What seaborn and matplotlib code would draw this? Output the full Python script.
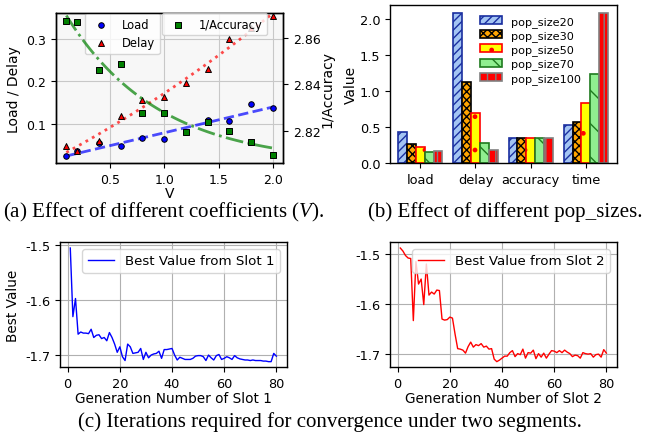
import numpy as np
import pandas as pd
import seaborn as sns
from matplotlib import pyplot as plt

# (a) effect of the coefficient V
v_values = [0.1, 0.2, 0.4, 0.6, 0.8, 1.0, 1.2, 1.4, 1.6, 1.8, 2.0]
load = [0.024, 0.034, 0.054, 0.046, 0.066, 0.064, 0.081, 0.109, 0.105, 0.146, 0.138]
delay = [0.046, 0.034, 0.059, 0.117, 0.156, 0.164, 0.196, 0.229, 0.300, 0.326, 0.354]
inv_accuracy = [2.8677, 2.8669, 2.8463, 2.8487, 2.8275, 2.8278,
                2.8194, 2.8238, 2.8197, 2.8149, 2.8092]

# (b) effect of the population size
metrics = ['load', 'delay', 'accuracy', 'time']
pop_sizes = ['pop_size20', 'pop_size30', 'pop_size50', 'pop_size70', 'pop_size100']
bar_values = {
    'pop_size20': [0.437, 2.079, 0.344, 0.530],
    'pop_size30': [0.260, 1.126, 0.344, 0.572],
    'pop_size50': [0.223, 0.693, 0.344, 0.837],
    'pop_size70': [0.149, 0.279, 0.344, 1.237],
    'pop_size100': [0.163, 0.186, 0.344, 2.079],
}

# (c) convergence of the two slots
generations = list(range(1, 81))
slot1 = [-1.505, -1.630, -1.597, -1.662, -1.658, -1.660, -1.660, -1.661, -1.653, -1.668,
         -1.664, -1.663, -1.670, -1.668, -1.674, -1.659, -1.668, -1.680, -1.695, -1.685,
         -1.703, -1.710, -1.680, -1.685, -1.697, -1.696, -1.695, -1.688, -1.708, -1.695,
         -1.705, -1.700, -1.698, -1.697, -1.693, -1.706, -1.690, -1.690, -1.689, -1.688,
         -1.700, -1.709, -1.704, -1.706, -1.708, -1.708, -1.708, -1.706, -1.702, -1.701,
         -1.701, -1.703, -1.710, -1.700, -1.705, -1.709, -1.701, -1.699, -1.708, -1.706,
         -1.703, -1.705, -1.708, -1.701, -1.705, -1.707, -1.708, -1.709, -1.709, -1.710,
         -1.709, -1.710, -1.710, -1.710, -1.711, -1.711, -1.712, -1.712, -1.697, -1.702]
slot2 = [-1.488, -1.494, -1.503, -1.508, -1.509, -1.633, -1.515, -1.560, -1.550, -1.601,
         -1.520, -1.582, -1.576, -1.580, -1.572, -1.573, -1.630, -1.632, -1.631, -1.626,
         -1.628, -1.660, -1.689, -1.690, -1.692, -1.698, -1.685, -1.676, -1.686, -1.681,
         -1.683, -1.679, -1.686, -1.684, -1.690, -1.689, -1.710, -1.715, -1.712, -1.708,
         -1.704, -1.704, -1.697, -1.693, -1.705, -1.699, -1.701, -1.690, -1.708, -1.697,
         -1.698, -1.692, -1.709, -1.699, -1.706, -1.698, -1.708, -1.700, -1.693, -1.694,
         -1.697, -1.693, -1.697, -1.692, -1.696, -1.699, -1.705, -1.702, -1.703, -1.708,
         -1.697, -1.699, -1.700, -1.699, -1.706, -1.701, -1.700, -1.706, -1.691, -1.698]

bar_styles = {
    'pop_size20': ('#a3c4f3', '#1a2fa0', '////'),
    'pop_size30': ('#ffa500', 'black', 'xxxx'),
    'pop_size50': ('#ffff00', 'red', '.'),
    'pop_size70': ('#90ee90', '#1e7a1e', '\\'),
    'pop_size100': ('#ff0000', 'grey', '||'),
}


def exp_fit(x, y, n=100):
    """Least-squares fit of y = c + a*exp(k*x), returned on a fine grid."""
    x = np.asarray(x)
    y = np.asarray(y)
    best = None
    for k in np.concatenate([np.linspace(-5, -0.01, 500), np.linspace(0.01, 5, 500)]):
        X = np.column_stack([np.ones_like(x), np.exp(k * x)])
        coef = np.linalg.lstsq(X, y, rcond=None)[0]
        sse = ((X @ coef - y) ** 2).sum()
        if best is None or sse < best[0]:
            best = (sse, k, coef)
    _, k, coef = best
    xs = np.linspace(x.min(), x.max(), n)
    return xs, coef[0] + coef[1] * np.exp(k * xs)


plt.rcParams['axes.unicode_minus'] = False
plt.rcParams['mathtext.fontset'] = 'custom'
plt.rcParams['mathtext.rm'] = 'Liberation Serif'
plt.rcParams['mathtext.it'] = 'Liberation Serif:italic'
plt.rcParams['axes.linewidth'] = 1.0

fig = plt.figure(figsize=(6.62, 4.39), dpi=100)

# (a)
df_a = pd.DataFrame({'V': v_values, 'load': load, 'delay': delay, 'acc': inv_accuracy})
ax1 = fig.add_axes([0.0846, 0.6257, 0.3434, 0.3424])
ax1.set_facecolor('#f7f7f7')
ax1.grid(True, color='#c8c8c8', lw=0.8)
ax1.set_axisbelow(True)
sns.regplot(df_a, x='V', y='load', ax=ax1, scatter=False, ci=None, order=1,
            line_kws={'color': 'blue', 'ls': '--', 'lw': 2, 'alpha': 0.7})
xs_d, fit_d = exp_fit(v_values, delay)
sns.lineplot(x=xs_d, y=fit_d, ax=ax1, color='red', ls=':', lw=2, alpha=0.7)
sns.scatterplot(df_a, x='V', y='load', ax=ax1, color='blue', marker='o', s=16,
                edgecolor='black', linewidth=0.7, label='Load', zorder=3)
sns.scatterplot(df_a, x='V', y='delay', ax=ax1, color='red', marker='^', s=18,
                edgecolor='black', linewidth=0.7, label='Delay', zorder=3)
ax1.set_ylim(0.006, 0.3616)
ax1.set_xlim(0.005, 2.095)
ax1.set_xticks([0.5, 1.0, 1.5, 2.0])
ax1.set_xlabel('V', fontsize=10, labelpad=0)
ax1.set_ylabel('Load / Delay', fontsize=10)
ax1.tick_params(labelsize=9)
ax1.legend(loc='upper left', bbox_to_anchor=(0.128, 1.0), borderaxespad=0, fontsize=8.3)

ax2 = ax1.twinx()
xs_a, fit_a = exp_fit(v_values, inv_accuracy)
sns.lineplot(x=xs_a, y=fit_a, ax=ax2, color='green', ls='-.', lw=2, alpha=0.7)
sns.scatterplot(df_a, x='V', y='acc', ax=ax2, color='green', marker='s', s=16,
                edgecolor='black', linewidth=0.7, label='1/Accuracy', zorder=3)
ax2.set_ylim(2.8058, 2.871)
ax2.set_yticks([2.82, 2.84, 2.86])
ax2.set_ylabel('1/Accuracy', fontsize=10, labelpad=0)
ax2.tick_params(labelsize=9)
ax2.legend(loc='upper left', bbox_to_anchor=(0.466, 1.0), borderaxespad=0, fontsize=8.3)

# (b)
df_b = pd.DataFrame([
    {'metric': m, 'pop': p, 'value': bar_values[p][i]}
    for p in pop_sizes for i, m in enumerate(metrics)
])
axb = fig.add_axes([0.5891, 0.6264, 0.3424, 0.359])
sns.barplot(df_b, x='metric', y='value', hue='pop', ax=axb, saturation=1,
            palette=[bar_styles[p][0] for p in pop_sizes], legend=False)
for cont, p in zip(axb.containers, pop_sizes):
    face, edge, hatch = bar_styles[p]
    for bar in cont:
        bar.set_edgecolor(edge)
        bar.set_hatch(hatch)
        bar.set_linewidth(1.2)
axb.legend(axb.containers, pop_sizes, loc='upper left', frameon=False, fontsize=8.1,
           labelspacing=0.3, borderaxespad=0, bbox_to_anchor=(0.377, 0.963))
axb.set_xlim(-0.55, 3.56)
axb.set_ylim(0, 2.19)
axb.set_xlabel('')
axb.set_ylabel('Value', fontsize=10, labelpad=1)
axb.tick_params(labelsize=9.3)

# (c)
df_c = pd.DataFrame({'gen': generations, 'slot1': slot1, 'slot2': slot2})
axc1 = fig.add_axes([0.0906, 0.161, 0.3424, 0.2847])
sns.lineplot(df_c, x='gen', y='slot1', ax=axc1, color='blue', lw=1,
             label='Best Value from Slot 1')
axc1.set_xlabel('Generation Number of Slot 1', fontsize=9.8, labelpad=1)
axc1.set_ylabel('Best Value', fontsize=9.8)
axc1.set_yticks([-1.5, -1.6, -1.7])

axc2 = fig.add_axes([0.5891, 0.161, 0.3424, 0.2847])
sns.lineplot(df_c, x='gen', y='slot2', ax=axc2, color='red', lw=1,
             label='Best Value from Slot 2')
axc2.set_xlabel('Generation Number of Slot 2', fontsize=9.8, labelpad=1)
axc2.set_ylabel('')
axc2.set_yticks([-1.5, -1.6, -1.7])

for ax in (axc1, axc2):
    ax.grid(True, color='#b0b0b0', lw=0.8)
    ax.set_xticks([0, 20, 40, 60, 80])
    ax.yaxis.set_major_formatter(plt.FormatStrFormatter('%.1f'))
    ax.tick_params(labelsize=9.3)
    ax.legend(loc='upper right', fontsize=9.6)

# captions
cap = dict(family='Liberation Serif', fontsize=15.1, ha='center', va='center')
fig.text(0.247, 0.516, '(a) Effect of different coefficients ($V$).', **cap)
fig.text(0.7636, 0.516, '(b) Effect of different pop_sizes.', **cap)
fig.text(0.499, 0.039, '(c) Iterations required for convergence under two segments.', **cap)

fig.savefig('out.png', dpi=100)
